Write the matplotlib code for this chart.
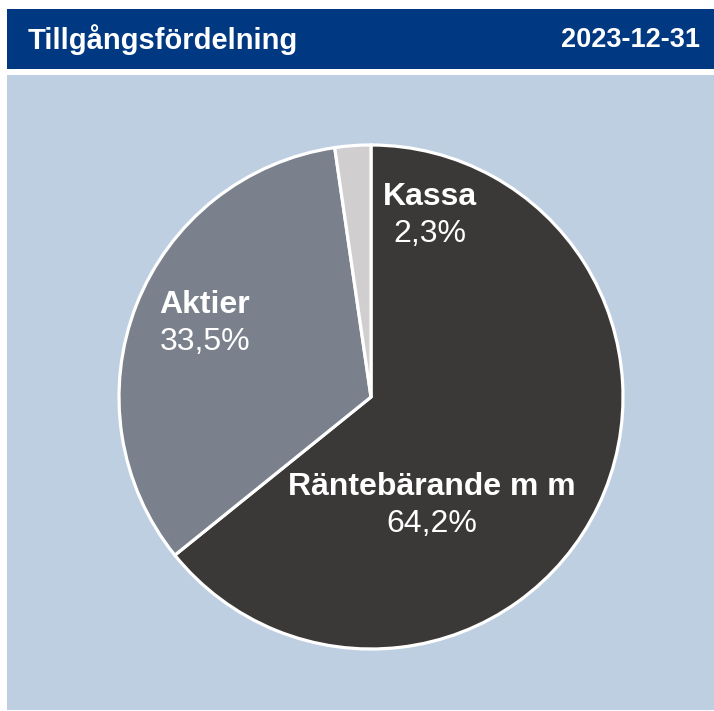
import matplotlib
matplotlib.use("Agg")
import matplotlib.pyplot as plt
from matplotlib.patches import Rectangle

plt.rcParams['font.family'] = ['Liberation Sans', 'DejaVu Sans']

title = "Tillgångsfördelning"
date = "2023-12-31"
categories = ["Räntebärande m m", "Aktier", "Kassa"]
values = [64.2, 33.5, 2.3]
colors = ["#3B3938", "#7A818C", "#D0CECE"]
label_pos = [(0.242, -0.43), (-0.659, 0.293), (0.234, 0.72)]

W, H = 714, 711
fig = plt.figure(figsize=(W / 100, H / 100), dpi=100)
fig.patch.set_facecolor("white")

# header bar and panel background
fig.patches.append(Rectangle((7 / W, 1 - 69 / H), 1 - 7 / W, 60 / H,
                             transform=fig.transFigure, facecolor="#003882",
                             edgecolor="none", zorder=-10))
fig.patches.append(Rectangle((7 / W, 1 - 710 / H), 1 - 7 / W, (710 - 75) / H,
                             transform=fig.transFigure, facecolor="#BFCFE2",
                             edgecolor="none", zorder=-10))
fig.text(28 / W, 1 - 40 / H, title, color="white", fontsize=21,
         fontweight="bold", ha="left", va="center")
fig.text(700 / W, 1 - 40 / H, date, color="white", fontsize=19.5,
         fontweight="bold", ha="right", va="center")

cx, cy, r = 371, 397, 252
s = 1.02
ax = fig.add_axes([(cx - r * s) / W, (H - cy - r * s) / H,
                   2 * r * s / W, 2 * r * s / H])
ax.set_zorder(5)
ax.set_facecolor("none")
ax.pie(values, colors=colors, startangle=90, counterclock=False, radius=1,
       wedgeprops=dict(edgecolor="white", linewidth=2.3))
ax.set_xlim(-s, s)
ax.set_ylim(-s, s)
ax.set_aspect("auto")
ax.axis("off")

for cat, v, (x, y) in zip(categories, values, label_pos):
    ax.text(x, y + 0.072, cat, color="white", fontsize=23, fontweight="bold",
            ha="center", va="center")
    ax.text(x, y - 0.075, f"{v:.1f}%".replace(".", ","), color="white",
            fontsize=23, ha="center", va="center")

fig.savefig("out.png", dpi=100)
